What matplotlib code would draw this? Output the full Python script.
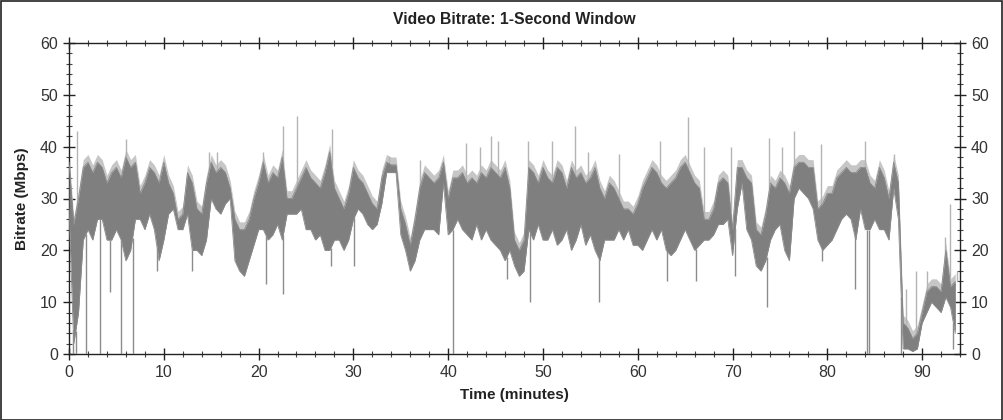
import matplotlib
matplotlib.use("Agg")
import matplotlib.pyplot as plt
from matplotlib.patches import Rectangle
import numpy as np

plt.rcParams['font.family'] = ['Liberation Sans', 'DejaVu Sans']

# time in minutes (0.5-minute sampling of the dense 1-second trace)
time_min = [i * 0.5 for i in range(188)]

# lower edge of the dense band (Mbps)
band_low = [
    28, 2, 8, 22, 24, 22, 26, 26, 22, 22, 24, 22, 18, 20, 26, 26, 24, 27, 24, 18,
    22, 27, 28, 24, 24, 27, 20, 20, 19, 22, 30, 28, 27, 29, 30, 18, 16, 15, 18, 21,
    24, 24, 22, 23, 25, 22, 27, 27, 27, 28, 24, 24, 22, 23, 20, 20, 22, 22, 20, 22,
    26, 28, 27, 25, 24, 25, 29, 35, 35, 35, 23, 20, 16, 18, 22, 24, 24, 24, 23, 33,
    23, 24, 26, 24, 23, 22, 25, 22, 24, 22, 21, 20, 18, 20, 17, 15, 16, 24, 22, 25,
    22, 22, 24, 21, 22, 24, 20, 22, 25, 21, 23, 20, 18, 22, 22, 22, 24, 22, 24, 21,
    21, 20, 22, 24, 22, 24, 20, 19, 20, 22, 24, 22, 20, 21, 22, 22, 23, 25, 25, 26,
    19, 28, 33, 24, 22, 17, 16, 18, 22, 24, 25, 20, 18, 30, 32, 31, 30, 28, 22, 20,
    21, 22, 24, 26, 27, 26, 22, 28, 24, 24, 26, 24, 24, 22, 32, 26, 1, 1, 0.5, 1,
    6, 8, 10, 9, 8, 11, 9, 4,
]

# upper edge of the dense band (Mbps)
band_high = [
    37, 25, 30, 36, 37, 35, 37, 36, 33, 35, 36, 34, 38, 36, 37, 31, 33, 36, 35, 33,
    37, 33, 31, 26, 27, 35, 33, 28, 27, 33, 37, 35, 36, 35, 32, 26, 24, 24, 26, 30,
    33, 37, 33, 35, 34, 38, 30, 30, 32, 34, 36, 34, 33, 32, 35, 39, 32, 30, 28, 31,
    36, 34, 33, 31, 29, 28, 34, 37, 36.5, 36.5, 28, 25, 21, 26, 32, 35, 34, 33, 34, 37,
    30, 34, 34, 35, 33, 34, 33, 35, 34, 36, 35, 34, 36, 32, 22, 20, 22, 36, 35, 33,
    36, 34, 33, 36, 35, 32, 36, 34, 35, 33, 34, 36, 32, 30, 33, 32, 30, 28, 28, 27,
    29, 32, 34, 36, 35, 33, 32, 33, 34, 36, 37, 35, 33, 32, 26, 26, 28, 33, 34, 33,
    24, 36, 36, 34, 33, 24, 23, 27, 33, 32, 34, 33, 31, 36, 37, 37, 36, 36, 28, 29,
    31, 31, 34, 35, 36, 35, 35, 36, 36, 33, 32, 36, 34, 30, 37, 33, 6, 5, 3, 4,
    8, 12, 13, 13, 12, 20, 13, 14,
]

# isolated downward drops (time, Mbps)
dip_time = [0.45, 0.7, 1.8, 3.3, 4.3, 5.5, 6.7, 9.3, 13.0, 20.8, 22.6, 27.6, 30.1,
            40.5, 46.2, 48.6, 55.9, 63.1, 66.1, 70.3, 73.6, 79.4, 82.9, 84.2, 84.4,
            87.8, 93.3]
dip_value = [0, 0, 0, 0, 12, 0, 0, 16, 16, 13.5, 11.5, 17, 17,
             0, 14.5, 10, 10, 14, 14, 15, 9, 18, 12.5, 0, 0,
             0, 1]

# isolated upward peaks (time, Mbps)
peak_time = [0.8, 6.0, 14.8, 15.6, 20.5, 22.6, 24.1, 27.7, 33.8, 37.0, 41.9, 43.4,
             44.5, 45.3, 48.4, 51.0, 53.4, 54.8, 58.0, 62.3, 65.3, 67.0, 69.8, 73.9,
             75.2, 76.5, 79.3, 84.0, 87.0, 88.3, 89.4, 90.5, 92.4, 92.9, 93.7]
peak_value = [43, 41.5, 39, 39, 39, 44, 46, 43.5, 38, 37.5, 40.8, 40,
              42, 41, 41, 41, 44, 39, 38.5, 41, 45.7, 40, 40, 41.6,
              40, 43, 40.5, 41, 38.5, 12.5, 16, 16, 22.5, 29, 16]

x_ticks = [0, 10, 20, 30, 40, 50, 60, 70, 80, 90]
y_ticks = [0, 10, 20, 30, 40, 50, 60]

fig = plt.figure(figsize=(10.04, 4.2), dpi=100)
ax = fig.add_axes([69 / 1004, 66 / 420, (960 - 69) / 1004, (354 - 43) / 420])

t = np.array(time_min)
lo = np.array(band_low)
hi = np.array(band_high)

# light halo slightly above the band, then the dense dark band
ax.fill_between(t, lo, hi + 1.5, color='#c6c6c6', linewidth=0, zorder=2)
ax.fill_between(t, lo, hi, color='#7f7f7f', linewidth=0, zorder=3)
ax.plot(t, hi, color='#8a8a8a', linewidth=0.6, zorder=3)
ax.plot(t, lo, color='#8a8a8a', linewidth=0.6, zorder=3)

# peaks and dips relative to the band
hi_at_peak = np.interp(peak_time, t, hi)
ax.vlines(peak_time, hi_at_peak, peak_value, color='#b4b4b4', linewidth=1.0, zorder=2)
lo_at_dip = np.interp(dip_time, t, lo)
ax.vlines(dip_time, dip_value, lo_at_dip, color='#8c8c8c', linewidth=1.0, zorder=3)

ax.set_xlim(0, 94)
ax.set_ylim(0, 60)
ax.set_xticks(x_ticks)
ax.set_yticks(y_ticks)
ax.set_xticks(np.arange(0, 95, 2), minor=True)
ax.set_yticks(np.arange(0, 61, 2), minor=True)

for side in ['left', 'right', 'top', 'bottom']:
    ax.spines[side].set_color('#222222')
    ax.spines[side].set_linewidth(1.0)

ax.tick_params(axis='both', which='major', direction='inout', length=8, width=1,
               labelsize=11.5, labelcolor='#333333', color='#222222')
ax.tick_params(axis='both', which='minor', direction='inout', length=4, width=0.8,
               color='#444444')
ax.tick_params(axis='x', which='both', top=True)
ax.tick_params(axis='x', which='major', pad=4)
ax.tick_params(axis='y', which='both', right=True, labelright=True, pad=4)

ax.set_title('Video Bitrate: 1-Second Window', fontsize=11.3, fontweight='bold',
             color='#222222', pad=14)
ax.set_xlabel('Time (minutes)', fontsize=11, fontweight='bold', color='#222222',
              labelpad=6)
ax.set_ylabel('Bitrate (Mbps)', fontsize=11, fontweight='bold', color='#222222',
              labelpad=8)

# outer frame of the image
fig.patches.append(Rectangle((0.0005, 0.001), 0.998, 0.997, transform=fig.transFigure,
                             fill=False, edgecolor='#222222', linewidth=1.2))

fig.savefig('out.png', dpi=100)
